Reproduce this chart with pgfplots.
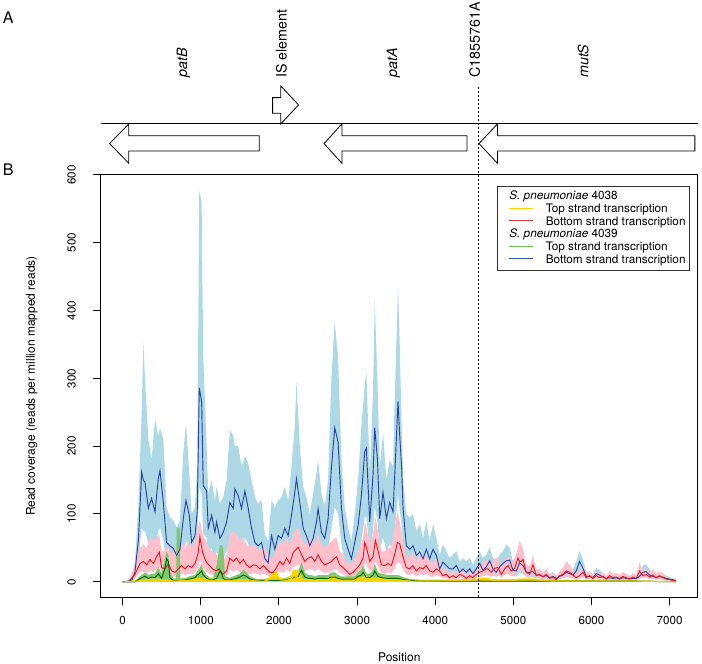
\documentclass[border=0pt]{standalone}
\usepackage{fontspec}
\setmainfont{TeX Gyre Heros}
\usepackage{pgfplots}
\pgfplotsset{compat=1.18}
\usepgfplotslibrary{fillbetween}
\usepackage{pgfplotstable}

\definecolor{bandblue}{RGB}{173,216,230}
\definecolor{bandpink}{RGB}{255,192,203}
\definecolor{bandgreen}{RGB}{130,200,115}
\definecolor{bandyellow}{RGB}{250,215,0}
\definecolor{lineblue}{RGB}{40,70,160}
\definecolor{linered}{RGB}{230,25,35}
\definecolor{linegreen}{RGB}{0,100,0}
\definecolor{lineyellow}{RGB}{235,205,0}
\definecolor{legyellow}{RGB}{240,215,0}
\definecolor{legred}{RGB}{225,55,65}
\definecolor{leggreen}{RGB}{110,195,85}
\definecolor{legblue}{RGB}{55,85,175}
\newcommand{\legline}[1]{\textcolor{#1}{\rule[2.7pt]{18pt}{0.8pt}}\hspace*{9.3pt}}

% S. pneumoniae 4039, bottom strand: x, line, band upper, band lower
\pgfplotstableread{
x b bu bl
0 0 0 0
80 1 2 0
120 3 8 1
157 15 30 6
200 60 110 30
243 162 250 80
264 150 354 75
285 147 300 75
328 108 210 55
370 123 180 60
413 103 240 50
456 152 215 75
477 164 227 80
520 117 210 60
562 58 110 30
605 53 95 25
648 49 90 25
690 39 80 20
733 48 90 25
775 93 190 45
810 120 234 60
852 98 160 50
882 58 100 30
925 68 110 35
954 103 170 50
980 286 577 140
1010 266 560 130
1031 142 330 70
1074 134 200 65
1095 79 130 40
1138 98 150 50
1180 73 120 35
1202 88 140 45
1244 64 115 30
1287 73 125 35
1330 88 150 45
1372 117 224 60
1415 108 215 55
1436 137 200 70
1479 127 200 65
1521 108 170 55
1564 134 185 65
1607 108 175 55
1649 79 150 40
1692 58 125 30
1734 53 115 25
1777 58 120 30
1820 34 70 15
1862 28 60 12
1905 68 120 35
1948 48 110 25
1990 68 120 35
2033 64 125 30
2075 79 140 40
2118 68 120 35
2160 98 170 50
2203 132 230 65
2224 152 295 75
2267 117 200 60
2310 79 140 40
2352 68 125 35
2395 53 100 25
2437 64 130 30
2480 88 160 45
2501 108 180 55
2544 73 130 35
2586 64 110 30
2629 93 150 45
2671 167 300 80
2714 227 384 110
2757 206 330 100
2800 108 180 55
2842 64 110 30
2885 48 80 25
2927 34 60 15
2970 58 100 30
3013 83 150 40
3055 127 230 60
3098 192 290 95
3119 197 310 95
3162 88 160 45
3204 157 280 75
3226 227 414 110
3260 182 300 90
3290 93 170 45
3332 132 220 65
3375 93 150 45
3418 117 180 55
3460 103 170 50
3482 157 270 75
3524 266 435 130
3546 215 350 105
3570 170 230 85
3589 108 150 55
3631 53 100 25
3674 48 95 25
3716 53 100 25
3759 39 75 20
3802 44 85 20
3844 34 65 15
3887 48 90 25
3929 34 60 15
3972 48 85 25
4014 39 65 20
4057 19 40 10
4100 29 55 15
4142 24 45 12
4185 19 35 10
4228 19 40 10
4270 24 45 12
4313 14 30 7
4355 19 35 10
4398 14 30 7
4441 19 35 10
4483 12 25 6
4526 19 35 10
4569 27 45 13
4611 17 35 8
4654 22 40 11
4697 31 50 15
4739 19 35 10
4782 14 30 7
4825 22 40 11
4867 27 45 13
4910 31 55 15
4953 32 50 16
4995 17 30 8
5038 16 28 8
5080 28 45 14
5123 24 38 12
5166 14 24 7
5208 14 24 7
5251 15 26 7
5294 10 18 5
5336 10 18 5
5379 8 14 4
5422 9 16 4
5464 6 11 3
5507 8 14 4
5549 5 9 2
5592 8 14 4
5635 10 18 5
5677 14 24 7
5720 12 20 6
5763 10 18 5
5805 16 30 8
5848 30 46 15
5891 20 34 10
5933 8 14 4
5976 8 14 4
6018 6 11 3
6061 12 20 6
6104 10 18 5
6146 7 12 3
6189 5 9 2
6232 6 11 3
6274 5 9 2
6317 6 11 3
6360 4 8 2
6402 6 11 3
6445 5 9 2
6488 5 9 2
6530 5 9 2
6573 5 9 2
6615 8 14 4
6658 14 24 7
6701 15 26 7
6743 10 18 5
6786 8 14 4
6829 6 11 3
6871 8 14 4
6914 7 12 3
6957 5 9 2
6999 4 7 2
7042 3 5 1
7080 2 4 1
}\bluedata

% S. pneumoniae 4038, bottom strand
\pgfplotstableread{
x r ru rl
0 0 0 0
80 1 2 0
157 11 25 5
221 27 50 14
264 30 55 15
307 25 50 12
349 33 65 17
392 27 60 14
434 37 65 19
468 44 70 22
498 21 45 11
541 19 45 10
584 27 55 14
626 16 40 8
669 14 50 7
711 19 55 10
754 24 60 12
797 19 50 10
839 24 60 12
882 21 50 11
925 27 60 14
967 43 80 22
988 66 92 33
1023 43 70 22
1065 30 60 15
1108 24 50 12
1150 19 45 10
1193 16 40 8
1236 19 40 10
1278 11 30 6
1330 16 40 8
1372 35 70 18
1415 30 75 15
1457 35 70 18
1500 27 60 14
1543 33 65 17
1585 25 55 13
1628 21 50 11
1670 25 55 13
1713 24 50 12
1756 19 45 10
1798 24 55 12
1841 19 45 10
1884 14 35 7
1926 14 35 7
1969 21 50 11
2011 30 60 15
2054 25 55 13
2097 35 65 18
2139 27 55 14
2182 43 70 22
2203 46 75 23
2246 51 80 26
2289 40 65 20
2331 30 55 15
2374 35 60 18
2416 37 65 19
2459 30 55 15
2502 40 70 20
2544 30 55 15
2587 25 50 13
2629 27 55 14
2672 30 60 15
2714 35 65 18
2736 37 65 19
2778 25 45 13
2821 21 40 11
2864 16 30 8
2906 11 25 6
2949 14 30 7
2991 19 40 10
3034 25 50 13
3077 35 65 18
3098 58 90 29
3119 51 80 26
3162 30 55 15
3204 37 70 19
3234 61 95 31
3268 46 75 23
3311 25 45 13
3353 24 45 12
3396 27 50 14
3439 24 50 12
3481 40 80 20
3515 58 103 29
3545 56 90 28
3588 37 60 19
3630 21 40 11
3673 19 35 10
3715 24 45 12
3758 16 30 8
3801 21 40 11
3843 19 35 10
3886 24 40 12
3928 16 30 8
3971 14 28 7
4014 19 35 10
4056 16 30 8
4099 9 18 5
4141 11 20 6
4184 6 12 3
4227 9 16 5
4269 6 12 3
4312 11 20 6
4355 9 16 5
4397 5 10 3
4440 9 16 5
4482 6 12 3
4525 11 20 6
4568 14 25 7
4610 16 28 8
4653 19 32 10
4676 19 32 10
4718 14 25 7
4761 20 34 10
4804 21 36 11
4846 11 20 6
4889 19 32 10
4931 24 38 12
4974 16 28 8
5017 20 35 10
5059 35 50 18
5080 30 61 15
5102 30 55 15
5123 33 48 17
5166 14 25 7
5208 11 20 6
5251 25 40 13
5294 9 16 5
5336 11 20 6
5379 7 13 4
5422 11 20 6
5464 5 10 3
5507 7 13 4
5549 3 6 2
5592 9 16 5
5635 11 20 6
5677 16 30 8
5720 14 25 7
5763 10 18 5
5805 6 12 3
5848 9 16 5
5891 14 25 7
5933 6 12 3
5976 9 16 5
6018 5 10 3
6061 9 16 5
6104 6 12 3
6146 8 14 4
6189 4 8 2
6232 9 16 5
6274 6 12 3
6317 7 13 4
6360 5 10 3
6402 8 14 4
6445 6 12 3
6488 4 8 2
6530 7 13 4
6573 5 10 3
6615 16 28 8
6658 9 16 5
6701 11 20 6
6743 7 13 4
6786 10 18 5
6829 6 12 3
6871 9 16 5
6914 6 12 3
6957 4 8 2
6999 3 6 2
7042 2 4 1
7080 1 2 0
}\reddata

% S. pneumoniae 4039, top strand
\pgfplotstableread{
x g gu gl
0 0 0 0
157 0 1 0
200 3 6 0
243 6 10 0
285 8 14 0
330 5 10 0
370 7 12 0
413 6 12 0
456 12 22 0
498 5 12 0
541 20 35 0
562 34 45 0
584 30 40 0
605 6 14 0
648 2 5 0
685 2 5 0
690 2 80 0
733 2 80 0
738 2 5 0
810 3 6 0
852 4 8 0
925 6 10 0
954 10 16 0
980 12 20 0
1010 16 26 0
1031 10 18 0
1074 5 10 0
1116 3 6 0
1158 3 6 0
1202 5 25 0
1244 16 54 0
1266 12 54 0
1287 5 50 0
1310 3 8 0
1372 3 6 0
1415 4 8 0
1457 5 10 0
1500 7 12 0
1543 10 18 0
1585 8 14 0
1628 4 8 0
1670 3 6 0
1713 2 4 0
1800 2 4 0
1900 2 4 0
2000 2 5 0
2100 3 6 0
2160 5 10 0
2203 7 14 0
2246 8 16 0
2289 17 28 0
2331 7 14 0
2374 5 10 0
2416 5 10 0
2459 4 8 0
2502 5 10 0
2544 5 10 0
2587 5 10 0
2629 5 10 0
2672 7 14 0
2714 7 14 0
2757 5 10 0
2800 4 8 0
2885 4 8 0
2970 4 8 0
3013 8 14 0
3055 10 18 0
3077 14 25 0
3119 6 12 0
3162 6 12 0
3204 10 18 0
3226 16 27 0
3268 8 14 0
3311 6 12 0
3396 5 10 0
3481 5 10 0
3524 5 10 0
3567 4 8 0
3610 3 6 0
3700 2 4 0
3800 1 3 0
4000 1 3 0
4500 1 2 0
5000 1 2 0
5500 1 2 0
6000 1 2 0
6500 1 2 0
7080 0 1 0
}\greendata

% S. pneumoniae 4038, top strand
\pgfplotstableread{
x y yu yl
0 0 0 0
200 1 3 0
400 2 5 0
600 1 3 0
800 2 4 0
1000 3 6 0
1200 2 4 0
1400 2 4 0
1600 2 4 0
1800 1 3 0
1884 3 7 0
1926 6 14 0
1969 6 15 0
2011 3 6 0
2100 2 4 0
2160 5 11 0
2182 8 18 0
2224 8 18 0
2267 5 14 0
2300 2 5 0
2400 2 4 0
2500 2 4 0
2650 3 7 0
2690 4 10 0
2730 3 7 0
2800 2 4 0
2950 2 5 0
3077 4 8 0
3120 4 8 0
3204 3 6 0
3290 3 6 0
3400 3 5 0
3500 2 4 0
3600 2 4 0
3700 1 3 0
4000 1 3 0
4400 2 4 0
4650 3 6 0
4750 2 4 0
5000 2 4 0
5120 3 5 0
5250 3 5 0
5500 1 3 0
6000 1 2 0
6500 1 2 0
7080 0 1 0
}\yellowdata

\begin{document}
\begin{tikzpicture}
\begin{axis}[
  at={(0pt,0pt)}, anchor=south west,
  scale only axis, width=448pt, height=317pt,
  xmin=-283, xmax=7363, ymin=-23, ymax=600.2,
  clip=false,
  axis line style={line width=0.75pt},
  tick align=outside, major tick length=6pt,
  xtick pos=bottom, ytick pos=left,
  tick style={black, line width=0.75pt},
  xtick={0,1000,...,7000}, ytick={0,100,...,600},
  /pgf/number format/assume math mode=true,
  /pgf/number format/1000 sep={},
  xticklabel shift=4.5pt, yticklabel shift=9pt,
  xticklabel style={font=\fontsize{8.7}{10}\selectfont},
  yticklabel style={font=\fontsize{8.7}{10}\selectfont, rotate=90, anchor=south},
  xlabel={Position},
  ylabel={Read coverage (reads per million mapped reads)},
  every axis x label/.style={at={(rel axis cs:0.5,0)}, anchor=center, yshift=-44.5pt, font=\fontsize{9}{10}\selectfont},
  every axis y label/.style={at={(rel axis cs:0,0.5)}, anchor=center, xshift=-51.5pt, rotate=90, font=\fontsize{9}{10}\selectfont},
  legend cell align=left,
  legend image code/.code={\path (0pt,0pt) (5.7pt,0pt);},
  legend style={at={(rel axis cs:1,1)}, anchor=north east, xshift=-6pt, yshift=-8.25pt,
    draw=black!80, line width=0.6pt, fill=white,
    inner xsep=3pt, inner ysep=3pt,
    font=\fontsize{8.8}{9.5}\selectfont,
    nodes={inner xsep=0pt, inner ysep=0.3pt, text height=6.9pt, text depth=2pt}},
]
% bands
\addplot[name path=bu, draw=none, forget plot] table[x=x, y=bu] {\bluedata};
\addplot[name path=bl, draw=none, forget plot] table[x=x, y=bl] {\bluedata};
\addplot[bandblue, forget plot] fill between[of=bu and bl];
\addplot[name path=ru, draw=none, forget plot] table[x=x, y=ru] {\reddata};
\addplot[name path=rl, draw=none, forget plot] table[x=x, y=rl] {\reddata};
\addplot[bandpink, forget plot] fill between[of=ru and rl];
\addplot[name path=gu, draw=none, forget plot] table[x=x, y=gu] {\greendata};
\addplot[name path=gl, draw=none, forget plot] table[x=x, y=gl] {\greendata};
\addplot[bandgreen, forget plot] fill between[of=gu and gl];
\addplot[name path=yu, draw=none, forget plot] table[x=x, y=yu] {\yellowdata};
\addplot[name path=yl, draw=none, forget plot] table[x=x, y=yl] {\yellowdata};
\addplot[bandyellow, forget plot] fill between[of=yu and yl];
% lines
\addplot[lineblue, line width=0.7pt, forget plot] table[x=x, y=b] {\bluedata};
\addplot[linered, line width=0.7pt, forget plot] table[x=x, y=r] {\reddata};
\addplot[linegreen, line width=0.7pt, forget plot] table[x=x, y=g] {\greendata};
\addplot[lineyellow, line width=0.7pt, forget plot] table[x=x, y=y] {\yellowdata};

% legend
\addlegendimage{black}
\addlegendentry{\textit{S. pneumoniae} 4038}
\addlegendimage{legyellow}
\addlegendentry{\legline{legyellow}Top strand transcription}
\addlegendimage{legred}
\addlegendentry{\legline{legred}Bottom strand transcription}
\addlegendimage{black}
\addlegendentry{\textit{S. pneumoniae} 4039}
\addlegendimage{leggreen}
\addlegendentry{\legline{leggreen}Top strand transcription}
\addlegendimage{legblue}
\addlegendentry{\legline{legblue}Bottom strand transcription}

% panel A: gene map
\draw[line width=0.75pt] (axis cs:-283,675.1) -- (axis cs:7363,675.1);
\draw[line width=0.6pt, fill=white] (axis cs:1748,657.8) -- (axis cs:78,657.8) -- (axis cs:78,675.1) -- (axis cs:-168,646.1) -- (axis cs:78,617.1) -- (axis cs:78,635.2) -- (axis cs:1748,635.2) -- cycle;
\draw[line width=0.6pt, fill=white] (axis cs:4408,657.8) -- (axis cs:2806,657.8) -- (axis cs:2806,675.1) -- (axis cs:2577,646.1) -- (axis cs:2806,617.1) -- (axis cs:2806,635.2) -- (axis cs:4408,635.2) -- cycle;
\draw[line width=0.6pt, fill=white] (axis cs:7324,657.8) -- (axis cs:4797,657.8) -- (axis cs:4797,675.1) -- (axis cs:4561,646.1) -- (axis cs:4797,617.1) -- (axis cs:4797,635.2) -- (axis cs:7324,635.2) -- cycle;
\draw[line width=0.6pt, fill=white] (axis cs:1919,713.9) -- (axis cs:2023,713.9) -- (axis cs:2023,731.1) -- (axis cs:2251,703.1) -- (axis cs:2023,675.1) -- (axis cs:2023,690.9) -- (axis cs:1919,690.9) -- cycle;
\draw[line width=0.7pt, dash pattern=on 1.5pt off 1.5pt] (axis cs:4560,730) -- (axis cs:4560,-23);
\node[rotate=90, anchor=west, inner sep=0pt, font=\fontsize{10.7}{12}\selectfont\itshape] at (axis cs:776,742.9) {patB};
\node[rotate=90, anchor=west, inner sep=0pt, font=\fontsize{10.7}{12}\selectfont] at (axis cs:2033,742.9) {IS element};
\node[rotate=90, anchor=west, inner sep=0pt, font=\fontsize{10.7}{12}\selectfont\itshape] at (axis cs:3464,742.9) {patA};
\node[rotate=90, anchor=west, inner sep=0pt, font=\fontsize{10.7}{12}\selectfont] at (axis cs:4505,742.9) {C1855761A};
\node[rotate=90, anchor=west, inner sep=0pt, font=\fontsize{10.7}{12}\selectfont\itshape] at (axis cs:5894,742.9) {mutS};
\node[font=\fontsize{12}{14}\selectfont] at (axis cs:-1467,831.4) {A};
\node[font=\fontsize{12}{14}\selectfont] at (axis cs:-1467,607.1) {B};
\end{axis}
\pgfresetboundingbox
\path[use as bounding box] (-75.45pt,-49.2pt) rectangle (451.05pt,448.05pt);
\end{tikzpicture}
\end{document}
